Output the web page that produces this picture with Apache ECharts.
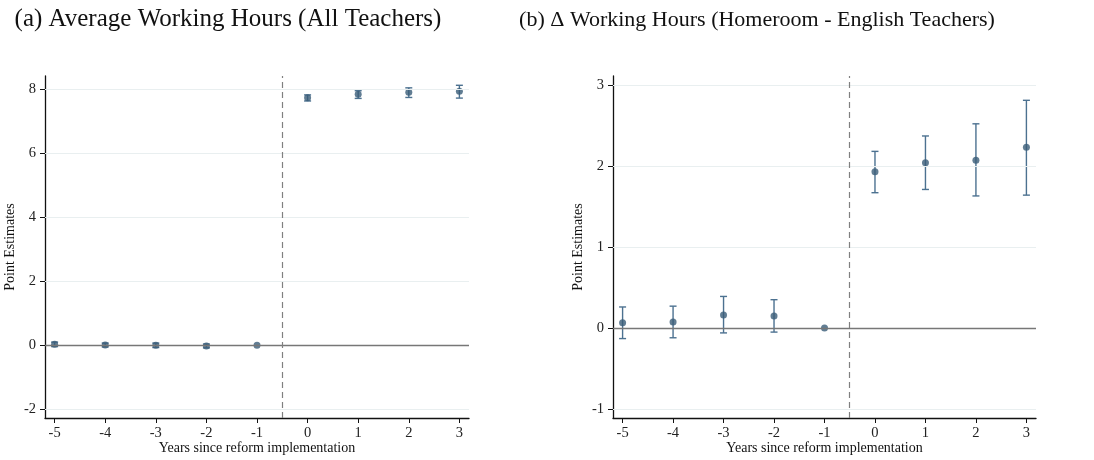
<!DOCTYPE html>
<html>
<head>
<meta charset="utf-8">
<script src="https://cdn.jsdelivr.net/npm/echarts@6/dist/echarts.min.js"></script>
<style>html,body{margin:0;padding:0;background:#fff}#c{width:1094px;height:460px}</style>
</head>
<body>
<div id="c"></div>
<script>
const years = [-5, -4, -3, -2, -1, 0, 1, 2, 3];
const aEst = [0.03, 0.01, 0.00, -0.02, 0, 7.73, 7.84, 7.90, 7.93];
const aLo  = [-0.04, -0.05, -0.07, -0.08, null, 7.63, 7.71, 7.74, 7.72];
const aHi  = [0.10, 0.07, 0.07, 0.04, null, 7.82, 7.95, 8.04, 8.12];
const bEst = [0.065, 0.074, 0.16, 0.15, 0, 1.93, 2.04, 2.07, 2.23];
const bLo  = [-0.13, -0.12, -0.06, -0.05, null, 1.67, 1.71, 1.63, 1.64];
const bHi  = [0.26, 0.27, 0.39, 0.35, null, 2.18, 2.37, 2.52, 2.81];
const aYTicks = [-2, 0, 2, 4, 6, 8];
const bYTicks = [-1, 0, 1, 2, 3];
const xTicks = [-5, -4, -3, -2, -1, 0, 1, 2, 3];
const reformLine = -0.5;
const titleA = '(a) Average Working Hours (All Teachers)';
const titleB = '(b) \u0394 Working Hours (Homeroom - English Teachers)';
const xName = 'Years since reform implementation';
const yName = 'Point Estimates';

const FONT = 'Liberation Serif';
const DOT = '#3a5d78';
const BAR = '#4c7190';

function ciData(lo, hi) {
  const out = [];
  years.forEach((y, i) => { if (lo[i] != null && hi[i] != null) out.push([y, lo[i], hi[i]]); });
  return out;
}
function renderCI(params, api) {
  const x = api.value(0);
  const p1 = api.coord([x, api.value(1)]);
  const p2 = api.coord([x, api.value(2)]);
  const w = 3.5;
  const st = { stroke: BAR, lineWidth: 1.4 };
  return { type: 'group', children: [
    { type: 'line', shape: { x1: p1[0], y1: p1[1], x2: p2[0], y2: p2[1] }, style: st },
    { type: 'line', shape: { x1: p1[0]-w, y1: p1[1], x2: p1[0]+w, y2: p1[1] }, style: st },
    { type: 'line', shape: { x1: p2[0]-w, y1: p2[1], x2: p2[0]+w, y2: p2[1] }, style: st }
  ]};
}
function xAxisCfg(idx) {
  return {
    type: 'value', gridIndex: idx, min: -5.19, max: 3.19,
    name: xName, nameLocation: 'middle', nameGap: 23, nameMoveOverlap: false,
    nameTextStyle: { fontFamily: FONT, fontSize: 14, color: '#111' },
    axisLine: { show: true, onZero: false, lineStyle: { color: '#111', width: 1.3 } },
    axisTick: { show: true, length: 5, customValues: xTicks, lineStyle: { color: '#111' } },
    axisLabel: { customValues: xTicks, fontFamily: FONT, fontSize: 14.5, color: '#222', margin: 8 },
    splitLine: { show: false }
  };
}
function yAxisCfg(idx, min, max, ticks) {
  return {
    type: 'value', gridIndex: idx, min: min, max: max,
    name: yName, nameLocation: 'middle', nameGap: 28, nameRotate: 90, nameMoveOverlap: false,
    nameTextStyle: { fontFamily: FONT, fontSize: 14, color: '#111' },
    axisLine: { show: true, onZero: false, lineStyle: { color: '#111', width: 1.3 } },
    axisTick: { show: true, length: 5, customValues: ticks, lineStyle: { color: '#111' } },
    axisLabel: { customValues: ticks, fontFamily: FONT, fontSize: 14.5, color: '#222', margin: 9 },
    splitLine: { show: false }
  };
}
function refSeries(idx, ticks) {
  const lines = ticks.filter(t => t !== 0).map(t => ({ yAxis: t, lineStyle: { color: '#e9eff0', width: 1, type: 'solid' } }));
  lines.push({ yAxis: 0, lineStyle: { color: '#777', width: 1.3, type: 'solid' } });
  lines.push({ xAxis: reformLine, lineStyle: { color: '#808080', width: 1.2, type: [6, 4] } });
  return {
    type: 'line', xAxisIndex: idx, yAxisIndex: idx, data: [], z: 1, silent: true,
    markLine: { symbol: 'none', silent: true, label: { show: false }, animation: false, data: lines }
  };
}

const chart = echarts.init(document.getElementById('c'), null, { renderer: 'canvas' });
chart.setOption({
  animation: false,
  backgroundColor: '#fff',
  title: [
    { text: titleA, left: 223, textAlign: 'center', top: 2, textStyle: { fontFamily: FONT, fontSize: 25, fontWeight: 'normal', color: '#111' } },
    { text: titleB, left: 752, textAlign: 'center', top: 4, textStyle: { fontFamily: FONT, fontSize: 22, fontWeight: 'normal', color: '#111' } }
  ],
  grid: [
    { left: 45, top: 76, width: 424, height: 342, outerBoundsMode: 'none', containLabel: false },
    { left: 613, top: 76, width: 423, height: 342, outerBoundsMode: 'none', containLabel: false }
  ],
  xAxis: [xAxisCfg(0), xAxisCfg(1)],
  yAxis: [yAxisCfg(0, -2.27, 8.41, aYTicks), yAxisCfg(1, -1.11, 3.11, bYTicks)],
  series: [
    refSeries(0, aYTicks),
    refSeries(1, bYTicks),
    { type: 'custom', xAxisIndex: 0, yAxisIndex: 0, z: 2, renderItem: renderCI, data: ciData(aLo, aHi), encode: { x: 0, y: [1, 2] } },
    { type: 'custom', xAxisIndex: 1, yAxisIndex: 1, z: 2, renderItem: renderCI, data: ciData(bLo, bHi), encode: { x: 0, y: [1, 2] } },
    { type: 'scatter', xAxisIndex: 0, yAxisIndex: 0, z: 3, symbolSize: 7, itemStyle: { color: DOT }, data: years.map((y, i) => [y, aEst[i]]) },
    { type: 'scatter', xAxisIndex: 1, yAxisIndex: 1, z: 3, symbolSize: 7, itemStyle: { color: DOT }, data: years.map((y, i) => [y, bEst[i]]) }
  ]
});
</script>
</body>
</html>
